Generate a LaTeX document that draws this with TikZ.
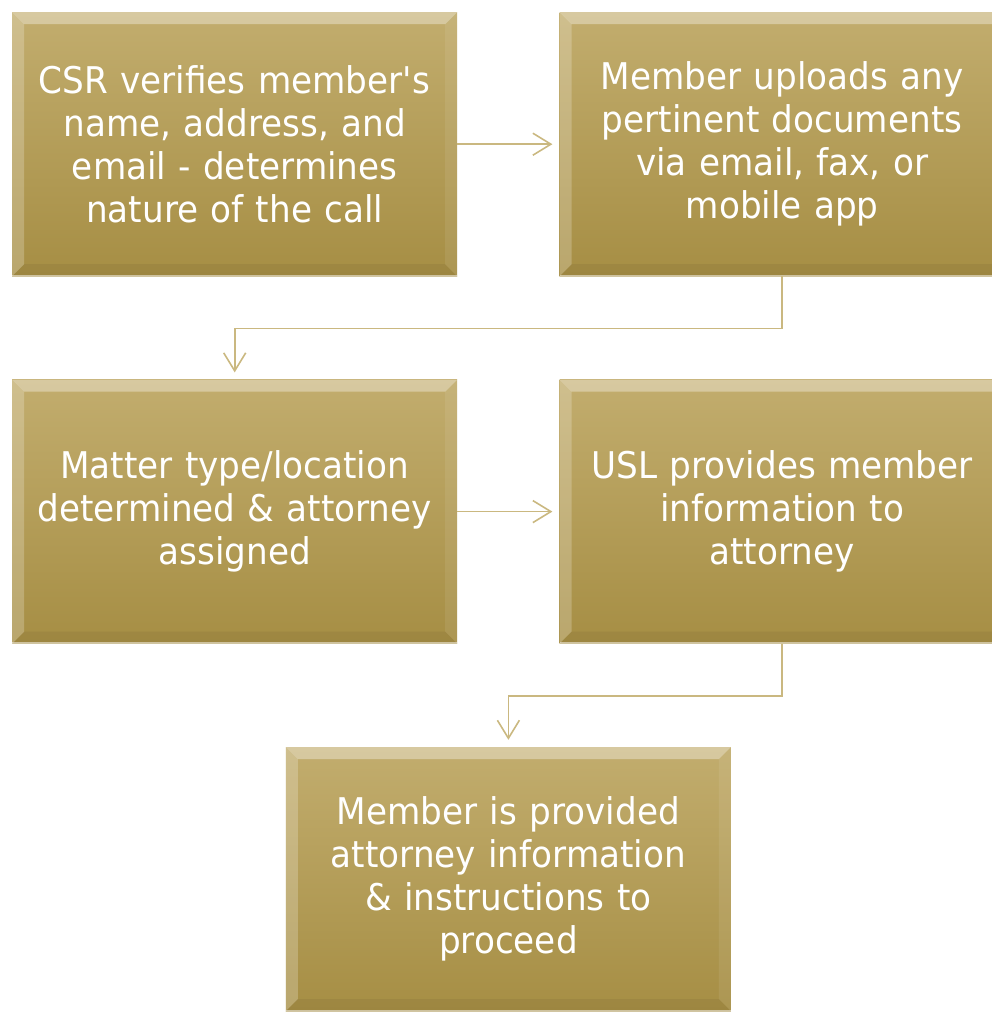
\documentclass[tikz,border=0pt]{standalone}
\usepackage{fontspec}
\setmainfont{DejaVu Sans}[FakeStretch=0.93]
\usetikzlibrary{arrows.meta,positioning,calc}
\definecolor{goldtop}{RGB}{194,173,110}
\definecolor{goldbot}{RGB}{166,142,68}
\definecolor{goldline}{RGB}{202,184,128}
\tikzset{
    line/.style  = {-{Straight Barb[length=18pt,width=22pt,line width=1.6pt]},
            line width=1.6pt, draw=goldline, shorten >=7pt},
    block/.style = {top color=goldtop, bottom color=goldbot,
            minimum width=445pt, minimum height=264pt, inner sep=0pt,
            text width=440pt, align=center, text=white,
            font=\fontsize{36.8}{43}\selectfont,
            path picture={
                % bevel round the edge
                \fill[white,opacity=0.35] (path picture bounding box.north west) -- (path picture bounding box.north east)
                    -- ([shift={(-12pt,-12pt)}]path picture bounding box.north east)
                    -- ([shift={(12pt,-12pt)}]path picture bounding box.north west) -- cycle;
                \fill[white,opacity=0.22] (path picture bounding box.north west) -- (path picture bounding box.south west)
                    -- ([shift={(12pt,12pt)}]path picture bounding box.south west)
                    -- ([shift={(12pt,-12pt)}]path picture bounding box.north west) -- cycle;
                \fill[white,opacity=0.08] (path picture bounding box.north east) -- (path picture bounding box.south east)
                    -- ([shift={(-12pt,12pt)}]path picture bounding box.south east)
                    -- ([shift={(-12pt,-12pt)}]path picture bounding box.north east) -- cycle;
                \fill[black,opacity=0.05] (path picture bounding box.south west) -- (path picture bounding box.south east)
                    -- ([shift={(-12pt,12pt)}]path picture bounding box.south east)
                    -- ([shift={(12pt,12pt)}]path picture bounding box.south west) -- cycle;
                \draw[white,opacity=0.5,line width=3pt] (path picture bounding box.south west) -- (path picture bounding box.south east);
            }},
}
\begin{document}
\begin{tikzpicture}[node distance=103pt and 102pt]
    \useasboundingbox (0,0) rectangle (991pt,-1015pt);
    % Nodes
    \node[block, anchor=north west] (csr) at (12pt,-12pt)
        {CSR verifies member\textquotesingle s\\name, address, and\\email - determines\\nature of the call};
    \node[block, right=of csr] (upload)
        {Member uploads any\\pertinent documents\\via email, fax, or\\mobile app};
    \node[block, below=of csr] (matter)
        {Matter type/location\\determined \& attorney\\assigned};
    \node[block, below=of upload] (usl)
        {USL provides member\\information to\\attorney};
    \node[block, anchor=north] (proceed) at ($($(matter.south)!0.5!(usl.south)$)+(0,-103pt)$)
        {Member is provided\\attorney information\\\& instructions to\\proceed};
    % Arrows
    \draw[line] (csr) -- (upload);
    \draw[line] (upload.south) -- ++(0,-52pt) -| (matter.north);
    \draw[line] (matter) -- (usl);
    \draw[line] (usl.south) -- ++(0,-52pt) -| (proceed.north);
\end{tikzpicture}
\end{document}
